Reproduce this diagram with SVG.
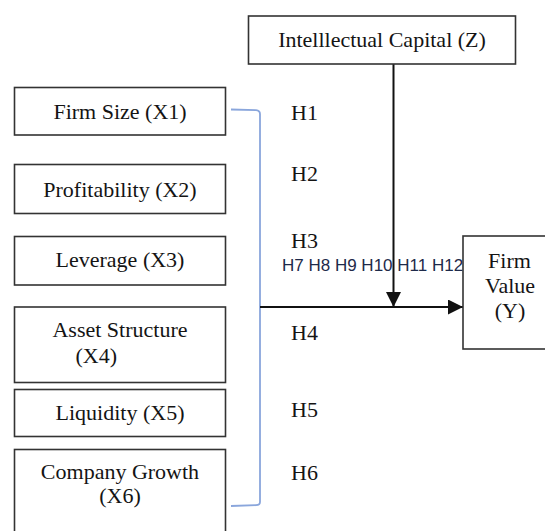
<svg xmlns="http://www.w3.org/2000/svg" width="545" height="531" viewBox="0 0 545 531">
<defs>
<style>
.box{fill:#fff;stroke:#333;stroke-width:1.6}
.t{font-family:'Liberation Serif','Times New Roman',Times,'DejaVu Serif','Noto Serif',serif;font-size:22px;fill:#141414}
.c{text-anchor:middle}
.hs{font-family:'Liberation Sans',Arial,sans-serif;font-size:17px;fill:#1e2a4a}
.ln{stroke:#111;stroke-width:2;fill:none}
.br{stroke:#8aa6dc;stroke-width:1.8;fill:none}
</style>
<marker id="ah" viewBox="0 0 10 10" refX="10" refY="5" markerWidth="15" markerHeight="15" markerUnits="userSpaceOnUse" orient="auto">
<path d="M0,0 L10,5 L0,10 Z" fill="#111"/>
</marker>
</defs>
<rect width="545" height="531" fill="#fff"/>
<g id="labels">
<text class="t" font-family="Liberation Serif, serif" x="291" y="120">H1</text>
<text class="t" x="291" y="181">H2</text>
<text class="t" x="291" y="248">H3</text>
<text class="hs" x="282" y="271">H7 H8 H9 H10 H11 H12</text>
<text class="t" x="291" y="340">H4</text>
<text class="t" x="291" y="417">H5</text>
<text class="t" x="291" y="480">H6</text>
</g>
<g id="connectors">
<path class="br" d="M231,109.5 L256,110.2 Q260,110.6 260,114 L260,502 Q260,505 256,505.2 L231,506"/>
<line class="ln" x1="393.5" y1="64" x2="393.5" y2="307" marker-end="url(#ah)"/>
<line class="ln" x1="260" y1="307" x2="463" y2="307" marker-end="url(#ah)"/>
</g>
<g id="node-z">
<rect class="box" x="248.5" y="16" width="267" height="48"/>
<text class="t c" x="382" y="46.7">Intelllectual Capital (Z)</text>
</g>
<g id="node-x1">
<rect class="box" x="14.5" y="87.5" width="211" height="47.5"/>
<text class="t c" x="120" y="119.3">Firm Size (X1)</text>
</g>
<g id="node-x2">
<rect class="box" x="14.5" y="164.5" width="211" height="49"/>
<text class="t c" x="120" y="196.7">Profitability (X2)</text>
</g>
<g id="node-x3">
<rect class="box" x="14.5" y="236.5" width="211" height="48.5"/>
<text class="t c" x="120" y="266.7">Leverage (X3)</text>
</g>
<g id="node-x4">
<rect class="box" x="14.5" y="307" width="211" height="75.5"/>
<text class="t c" x="120" y="337.3">Asset Structure</text>
<text class="t" x="75.5" y="363.3">(X4)</text>
</g>
<g id="node-x5">
<rect class="box" x="14.5" y="389.5" width="211" height="47"/>
<text class="t c" x="120" y="420">Liquidity (X5)</text>
</g>
<g id="node-x6">
<rect class="box" x="14.5" y="449.5" width="211" height="100"/>
<text class="t c" x="120" y="479.3">Company Growth</text>
<text class="t c" x="120" y="503.3">(X6)</text>
</g>
<g id="node-y">
<rect class="box" x="463" y="236" width="100" height="113"/>
<text class="t c" x="509.5" y="267.7">Firm</text>
<text class="t c" x="510" y="293.3">Value</text>
<text class="t c" x="510" y="318.3">(Y)</text>
</g>
</svg>
